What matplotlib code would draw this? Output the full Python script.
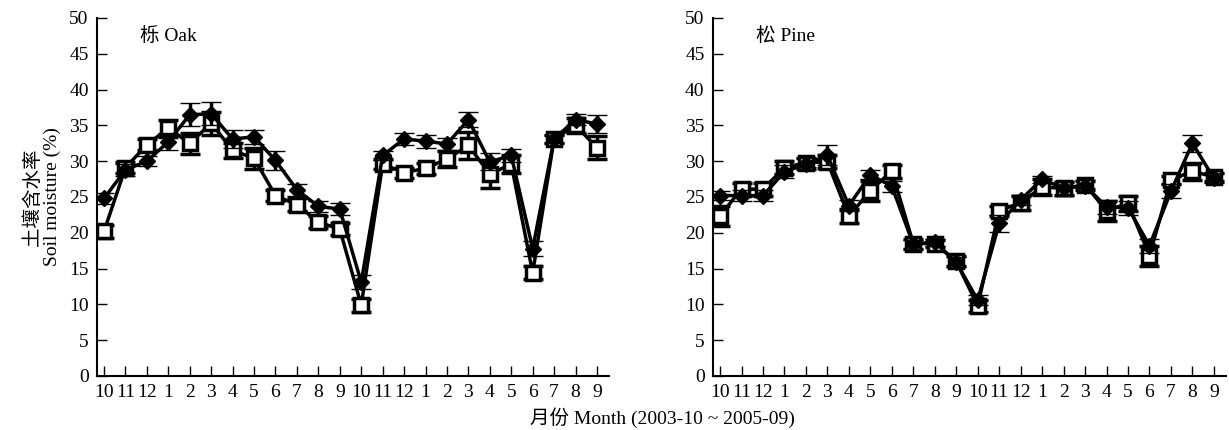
import matplotlib
matplotlib.use('Agg')
from matplotlib import pyplot as plt
import numpy as np

plt.rcParams['font.family'] = ['Liberation Serif', 'Noto Sans CJK SC']
plt.rcParams['font.size'] = 14

month_labels = ['10', '11', '12', '1', '2', '3', '4', '5', '6', '7', '8', '9',
                '10', '11', '12', '1', '2', '3', '4', '5', '6', '7', '8', '9']

# Oak (栎)
oak_diamond = [24.8, 28.8, 30.0, 32.7, 36.5, 36.6, 33.1, 33.4, 30.1, 26.0, 23.7, 23.3,
               13.1, 30.8, 33.1, 32.8, 32.4, 35.8, 29.9, 30.8, 17.8, 33.1, 35.8, 35.2]
oak_diamond_err = [0.8, 0.8, 0.7, 1.2, 1.6, 1.6, 1.2, 1.0, 1.3, 0.8, 0.8, 0.8,
                   1.0, 0.6, 0.8, 0.9, 0.8, 1.0, 1.2, 0.9, 1.0, 0.5, 0.8, 1.3]
oak_square = [20.2, 29.1, 32.3, 34.6, 32.5, 35.3, 31.5, 30.4, 25.2, 23.9, 21.5, 20.5,
              9.9, 29.6, 28.4, 29.0, 30.3, 32.2, 28.2, 29.6, 14.4, 33.1, 35.0, 31.9]
oak_square_err = [0.9, 0.8, 0.8, 1.2, 1.5, 1.6, 1.1, 1.5, 0.8, 0.9, 0.8, 0.8,
                  0.9, 0.7, 0.7, 0.8, 1.1, 1.9, 1.9, 1.2, 0.9, 0.6, 1.0, 1.6]

# Pine (松)
pine_diamond = [25.2, 25.2, 25.2, 28.5, 29.6, 30.8, 23.8, 28.1, 26.5, 18.4, 18.7, 15.9,
                10.6, 21.3, 24.6, 27.5, 26.2, 26.6, 23.6, 23.5, 18.2, 25.8, 32.5, 27.6]
pine_diamond_err = [0.6, 0.8, 0.8, 0.9, 0.8, 1.4, 0.8, 0.6, 0.8, 0.6, 0.5, 0.7,
                    0.7, 1.2, 0.7, 0.5, 1.0, 0.8, 1.0, 1.0, 1.0, 1.0, 1.2, 0.7]
pine_square = [22.4, 26.1, 26.1, 29.1, 29.8, 29.9, 22.3, 25.9, 28.6, 18.5, 18.5, 16.0,
               9.8, 23.1, 24.2, 26.4, 26.2, 26.7, 23.1, 24.1, 16.8, 27.4, 28.6, 27.8]
pine_square_err = [1.4, 0.9, 0.9, 0.9, 0.7, 0.9, 1.0, 1.4, 0.9, 0.7, 0.5, 0.7,
                   0.8, 0.7, 1.0, 1.1, 0.9, 0.6, 1.4, 1.0, 1.4, 0.6, 1.2, 0.6]

x = np.arange(len(month_labels))

fig = plt.figure(figsize=(12.29, 4.30), dpi=100)
ax1 = fig.add_axes([0.0789, 0.1256, 0.4166, 0.8326])
ax2 = fig.add_axes([0.5801, 0.1256, 0.4174, 0.8326])

panels = [(ax1, oak_diamond, oak_diamond_err, oak_square, oak_square_err, '栎 Oak'),
          (ax2, pine_diamond, pine_diamond_err, pine_square, pine_square_err, '松 Pine')]

for (ax, dia, dia_err, sq, sq_err, name) in panels:
    ax.errorbar(x, sq, yerr=sq_err, fmt='-s', color='black', mfc='white', mec='black',
                ms=10, mew=2.5, lw=2.5, elinewidth=2.5, capsize=7, capthick=2.5, zorder=3)
    ax.errorbar(x, dia, yerr=dia_err, fmt='-D', color='black', mfc='black', mec='black',
                ms=8.5, mew=1, lw=2.5, elinewidth=2.5, capsize=7, capthick=2.5, zorder=4)
    ax.set_xlim(-0.33, 23.56)
    ax.set_ylim(0, 50)
    ax.set_yticks(np.arange(0, 51, 5))
    ax.set_xticks(x)
    ax.set_xticklabels(month_labels)
    ax.spines['top'].set_visible(False)
    ax.spines['right'].set_visible(False)
    ax.spines['left'].set_linewidth(1.5)
    ax.spines['bottom'].set_linewidth(1.5)
    ax.tick_params(direction='in', length=7, width=1, pad=6, labelsize=14)
    ax.text(0.084, 0.95, name, transform=ax.transAxes, fontsize=14, va='center')

ax1.set_ylabel('土壤含水率\nSoil moisture (%)', fontsize=14, linespacing=1.1, labelpad=6)
fig.text(0.539, 0.028, '月份 Month (2003-10 ~ 2005-09)', ha='center', va='center', fontsize=14)

fig.savefig('out.png', dpi=100)
plt.close(fig)
